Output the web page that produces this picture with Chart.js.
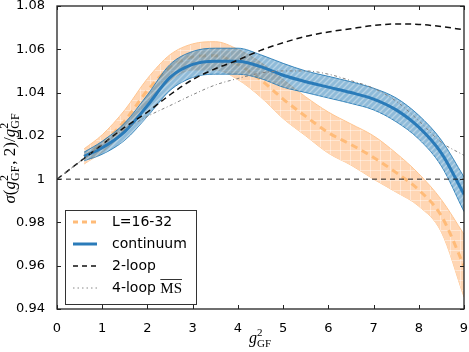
<!DOCTYPE html>
<html>
<head>
<meta charset="utf-8">
<script src="https://cdn.jsdelivr.net/npm/chart.js@4.4.1/dist/chart.umd.min.js"></script>
<style>
html,body{margin:0;padding:0;background:#fff}
#wrap{width:469px;height:352px}
</style>
</head>
<body>
<div id="wrap"><canvas id="chartArea" width="469" height="352"></canvas></div>
<script>
var gBand = [0.6, 1.0, 1.5, 2.0, 2.5, 3.0, 3.5, 4.0, 4.5, 5.0, 5.5, 6.0, 6.5, 7.0, 7.5, 8.0, 8.5, 9.0]
// L=16-32 lattice step scaling (centre and half width)
var latCentre = [1.0105, 1.0165, 1.027, 1.041, 1.0515, 1.0565, 1.057, 1.053, 1.046, 1.037, 1.029, 1.0215, 1.016, 1.010, 1.003, 0.995, 0.983, 0.960]
var latErr    = [0.0035, 0.004, 0.005, 0.0055, 0.006, 0.006, 0.0065, 0.007, 0.008, 0.009, 0.009, 0.0095, 0.0095, 0.010, 0.009, 0.0075, 0.0075, 0.0145]
// continuum extrapolation
var contCentre = [1.0105, 1.0145, 1.022, 1.034, 1.047, 1.053, 1.0545, 1.0545, 1.052, 1.048, 1.045, 1.0425, 1.040, 1.037, 1.032, 1.024, 1.012, 0.993]
var contErr    = [0.002, 0.003, 0.004, 0.005, 0.006, 0.006, 0.006, 0.006, 0.0055, 0.0055, 0.005, 0.005, 0.005, 0.005, 0.0055, 0.0055, 0.006, 0.008]
// perturbative curves
var gPert    = [0, 0.5, 1, 1.5, 2, 2.5, 3, 3.5, 4, 4.5, 5, 5.5, 6, 6.5, 7, 7.5, 8, 8.5, 9]
var twoLoop  = [1.000, 1.008, 1.016, 1.024, 1.031, 1.039, 1.046, 1.051, 1.055, 1.0595, 1.063, 1.066, 1.068, 1.0695, 1.071, 1.0717, 1.0715, 1.0705, 1.069]
var fourLoop = [1.000, 1.008, 1.016, 1.023, 1.029, 1.034, 1.039, 1.0435, 1.0465, 1.049, 1.050, 1.050, 1.0485, 1.0455, 1.042, 1.036, 1.027, 1.017, 1.011]
var unityX = [0, 9]
var unityY = [1, 1]
var legendLabels = ['L=16-32', 'continuum', '2-loop', '4-loop ']

var orange = '#ffbb78'
var blue = '#2a7bb9'

function pts(xs, ys){ return xs.map((x, i) => ({x: x, y: ys[i]})) }
function shift(ys, es, s){ return ys.map((y, i) => y + s * es[i]) }

var ctx = document.getElementById('chartArea').getContext('2d')

function crossHatch(){
  var c = document.createElement('canvas'); c.width = 10; c.height = 10
  var g = c.getContext('2d')
  g.fillStyle = 'rgb(255,214,180)'; g.fillRect(0, 0, 10, 10)
  g.strokeStyle = 'rgba(255,255,255,0.4)'; g.lineWidth = 1
  g.beginPath(); g.moveTo(0, 0.5); g.lineTo(10, 0.5); g.moveTo(0.5, 0); g.lineTo(0.5, 10); g.stroke()
  return ctx.createPattern(c, 'repeat')
}
function diagHatch(){
  var c = document.createElement('canvas'); c.width = 6; c.height = 6
  var g = c.getContext('2d')
  g.fillStyle = 'rgba(31,119,180,0.5)'; g.fillRect(0, 0, 6, 6)
  g.strokeStyle = 'rgba(255,255,255,0.35)'; g.lineWidth = 1.4
  g.beginPath()
  g.moveTo(-1, 7); g.lineTo(7, -1)
  g.moveTo(-4, 4); g.lineTo(4, -4)
  g.moveTo(2, 10); g.lineTo(10, 2)
  g.stroke()
  return ctx.createPattern(c, 'repeat')
}

var base = {pointRadius: 0, cubicInterpolationMode: 'monotone', fill: false}

var deco = {
  id: 'deco',
  afterDatasetsDraw(chart){
    var c = chart.ctx, a = chart.chartArea, xs = chart.scales.x, ys = chart.scales.y
    c.save()
    // inward ticks on all four sides, then the frame
    c.strokeStyle = '#222'; c.lineWidth = 1
    c.beginPath()
    xs.ticks.forEach(t => {
      var px = Math.round(xs.getPixelForValue(t.value)) + 0.5
      c.moveTo(px, a.bottom); c.lineTo(px, a.bottom - 4)
      c.moveTo(px, a.top); c.lineTo(px, a.top + 4)
    })
    ys.ticks.forEach(t => {
      var py = Math.round(ys.getPixelForValue(t.value)) + 0.5
      c.moveTo(a.left, py); c.lineTo(a.left + 4, py)
      c.moveTo(a.right, py); c.lineTo(a.right - 4, py)
    })
    c.stroke()
    c.lineWidth = 1.3
    c.strokeRect(a.left, a.top, a.right - a.left, a.bottom - a.top)

    // legend
    var lx = a.left + 8, ly = a.bottom - 99, lw = 131, lh = 94
    c.fillStyle = '#fff'; c.fillRect(lx, ly, lw, lh)
    c.strokeStyle = '#333'; c.lineWidth = 1
    c.strokeRect(lx + 0.5, ly + 0.5, lw, lh)
    var styles = [
      {col: orange, w: 3, dash: [5, 4]},
      {col: blue, w: 3, dash: []},
      {col: '#111', w: 1.5, dash: [5, 4]},
      {col: '#888', w: 1, dash: [1.5, 3]}
    ]
    c.textBaseline = 'middle'; c.fillStyle = '#000'
    legendLabels.forEach((lab, i) => {
      var y = ly + 12 + 22 * i
      var s = styles[i]
      c.strokeStyle = s.col; c.lineWidth = s.w; c.setLineDash(s.dash)
      c.beginPath(); c.moveTo(lx + 8, y); c.lineTo(lx + 32, y); c.stroke()
      c.setLineDash([])
      c.font = '14px "DejaVu Sans"'
      c.fillText(lab, lx + 47, y)
      if (i == 3) {
        var x0 = lx + 47 + c.measureText(lab).width
        c.font = '15px "Liberation Serif"'
        c.fillText('MS', x0, y + 1)
        var w = c.measureText('MS').width
        c.strokeStyle = '#000'; c.lineWidth = 0.8
        c.beginPath(); c.moveTo(x0, y - 8.5); c.lineTo(x0 + w, y - 8.5); c.stroke()
      }
    })

    // axis titles
    var serif = '"Liberation Serif", serif'
    var gsym = [{t: 'g', it: true}, {sup: '2', sub: 'GF'}]
    var ylab = [{t: 'σ', it: true}, {t: '(', it: false}].concat(gsym, [{t: ', 2)/', it: false}], gsym)
    function runW(items, big, small){
      var w = 0
      items.forEach(p => {
        if (p.sup) {
          c.font = small + 'px ' + serif
          w += Math.max(c.measureText(p.sup).width, c.measureText(p.sub).width) + 1
        } else {
          c.font = (p.it ? 'italic ' : '') + big + 'px ' + serif
          w += c.measureText(p.t).width
        }
      })
      return w
    }
    function run(items, x, y, big, small){
      items.forEach(p => {
        if (p.sup) {
          c.font = small + 'px ' + serif
          c.fillText(p.sup, x, y - 7)
          c.fillText(p.sub, x, y + 4)
          x += Math.max(c.measureText(p.sup).width, c.measureText(p.sub).width) + 1
        } else {
          c.font = (p.it ? 'italic ' : '') + big + 'px ' + serif
          c.fillText(p.t, x, y)
          x += c.measureText(p.t).width
        }
      })
    }
    c.fillStyle = '#000'; c.textBaseline = 'alphabetic'; c.textAlign = 'left'
    var xw = runW(gsym, 16, 11)
    run(gsym, (a.left + a.right) / 2 - xw / 2, 343, 16, 11)
    var yw = runW(ylab, 17, 12)
    c.save()
    c.translate(15, 158); c.rotate(-Math.PI / 2)
    run(ylab, -yw / 2, 0, 17, 12)
    c.restore()
    c.restore()
  }
}

new Chart(ctx, {
  type: 'line',
  data: {
    datasets: [
      Object.assign({}, base, {data: pts(gBand, shift(latCentre, latErr, 1)), borderColor: '#ffc590', borderWidth: 1, backgroundColor: crossHatch(), fill: '+1', order: 6}),
      Object.assign({}, base, {data: pts(gBand, shift(latCentre, latErr, -1)), borderColor: '#ffc590', borderWidth: 1, order: 6}),
      Object.assign({}, base, {label: 'L=16-32', data: pts(gBand, latCentre), borderColor: orange, borderWidth: 3, borderDash: [7, 5], order: 5}),
      Object.assign({}, base, {data: pts(gBand, shift(contCentre, contErr, 1)), borderColor: 'rgba(31,119,180,0.85)', borderWidth: 1, backgroundColor: diagHatch(), fill: '+1', order: 4}),
      Object.assign({}, base, {data: pts(gBand, shift(contCentre, contErr, -1)), borderColor: 'rgba(31,119,180,0.85)', borderWidth: 1, order: 4}),
      Object.assign({}, base, {label: 'continuum', data: pts(gBand, contCentre), borderColor: blue, borderWidth: 3, order: 3}),
      Object.assign({}, base, {label: '2-loop', data: pts(gPert, twoLoop), borderColor: '#111', borderWidth: 1.5, borderDash: [6, 4], order: 2}),
      Object.assign({}, base, {label: '4-loop MS', data: pts(gPert, fourLoop), borderColor: '#808080', borderWidth: 1, borderDash: [3, 2.5, 1, 2.5], order: 1}),
      Object.assign({}, base, {data: pts(unityX, unityY), borderColor: '#222', borderWidth: 1, borderDash: [5, 4], order: 0})
    ]
  },
  options: {
    responsive: false,
    animation: false,
    layout: {padding: {left: 0, top: 6, right: 5, bottom: 0}},
    plugins: {legend: {display: false}, tooltip: {enabled: false}},
    scales: {
      x: {
        type: 'linear', min: 0, max: 9,
        grid: {display: false}, border: {display: false},
        ticks: {stepSize: 1, padding: 4, color: '#000', font: {family: 'DejaVu Sans', size: 13}, maxRotation: 0},
        afterFit(s){ s.height = 43; s.paddingLeft = 0; s.paddingRight = 0 }
      },
      y: {
        type: 'linear', min: 0.94, max: 1.08,
        grid: {display: false}, border: {display: false},
        ticks: {stepSize: 0.02, padding: 4, color: '#000', font: {family: 'DejaVu Sans', size: 13},
          callback: v => { var s = v.toFixed(2); return s == '1.00' ? '1' : s }},
        afterFit(s){ s.width = 57; s.paddingTop = 0; s.paddingBottom = 0 }
      }
    }
  },
  plugins: [deco]
})
</script>
</body>
</html>
